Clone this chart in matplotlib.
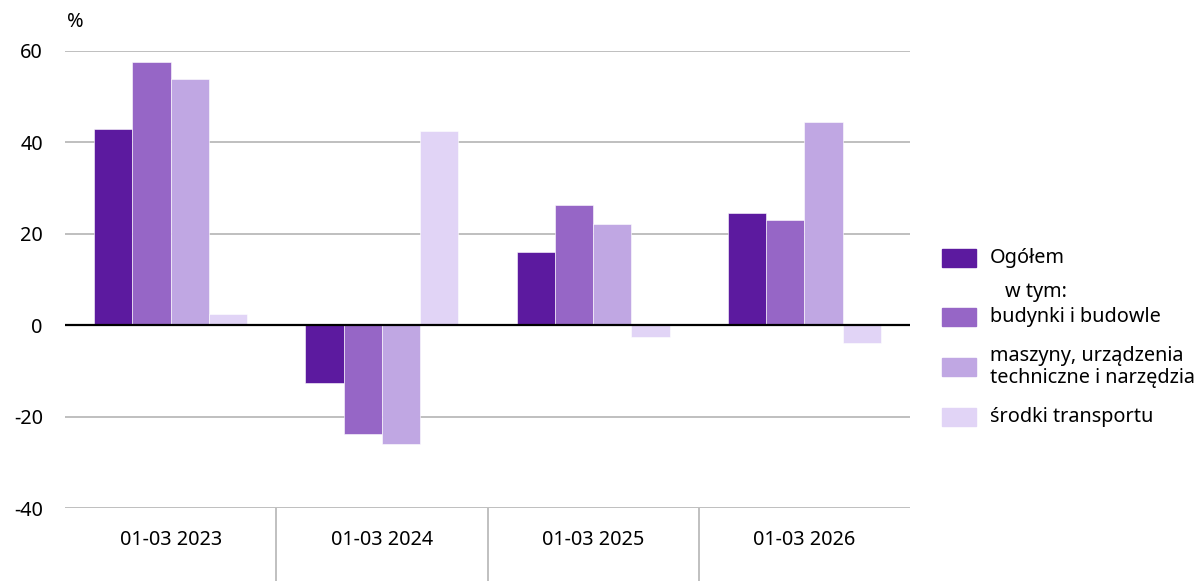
import numpy as np
import matplotlib
matplotlib.use('Agg')
import matplotlib.pyplot as plt
from matplotlib.patches import Rectangle

plt.rcParams['font.family'] = ['Noto Sans', 'DejaVu Sans']

categories = ['01-03 2023', '01-03 2024', '01-03 2025', '01-03 2026']
ogolem = [43.0, -12.7, 16.0, 24.5]
budynki = [57.6, -23.9, 26.3, 23.0]
maszyny = [53.8, -26.0, 22.2, 44.5]
transport = [2.4, 42.5, -2.6, -3.8]

series = [ogolem, budynki, maszyny, transport]
labels = ['Ogółem', 'budynki i budowle', 'maszyny, urządzenia\ntechniczne i narzędzia', 'środki transportu']
colors = ['#5c1a9f', '#9666c6', '#c0a7e3', '#e1d4f6']

W, H = 1203, 581
FS = 14.3
fig = plt.figure(figsize=(W / 100, H / 100), dpi=100)
ax = fig.add_axes([65 / W, 1 - 508 / H, (910 - 65) / W, (508 - 51) / H])

x = np.arange(len(categories))
bw = 0.181
for i, (vals, c) in enumerate(zip(series, colors)):
    ax.bar(x + (i - 1.5) * bw, vals, bw, color=c, edgecolor='white', linewidth=0.4, zorder=3)

ax.set_xlim(-0.5, len(categories) - 0.5)
ax.set_ylim(-40, 60)
ax.set_yticks(np.arange(-40, 61, 20))
ax.set_yticklabels([str(v) for v in range(-40, 61, 20)])
ax.set_xticks(x)
ax.set_xticklabels(categories)

ax.grid(axis='y', color='#bfbfbf', linewidth=1.4, zorder=0)
ax.axhline(0, color='black', linewidth=1.6, zorder=4)
for s in ax.spines.values():
    s.set_visible(False)
ax.tick_params(axis='both', length=0, labelsize=FS, colors='black')
ax.tick_params(axis='y', pad=16)
ax.tick_params(axis='x', pad=16)

# category separators below the axis
for b in x[:-1] + 0.5:
    ax.axvline(b, ymin=-(H - 508) / (508 - 51), ymax=0, color='#c0c0c0', linewidth=1.4, clip_on=False)

fig.text(67 / W, 1 - 22 / H, '%', fontsize=FS, va='center', ha='left')

# legend drawn by hand
patch_y = [258, 317, 367, 417]
for lab, c, py in zip(labels, colors, patch_y):
    fig.add_artist(Rectangle((942 / W, 1 - (py + 9) / H), 34 / W, 18 / H,
                             transform=fig.transFigure, color=c))
    fig.text(990 / W, 1 - py / H, lab, fontsize=FS, va='center', ha='left', linespacing=1.2)
fig.text(1005 / W, 1 - 292 / H, 'w tym:', fontsize=FS, va='center', ha='left')

fig.savefig('out.png', dpi=100)
